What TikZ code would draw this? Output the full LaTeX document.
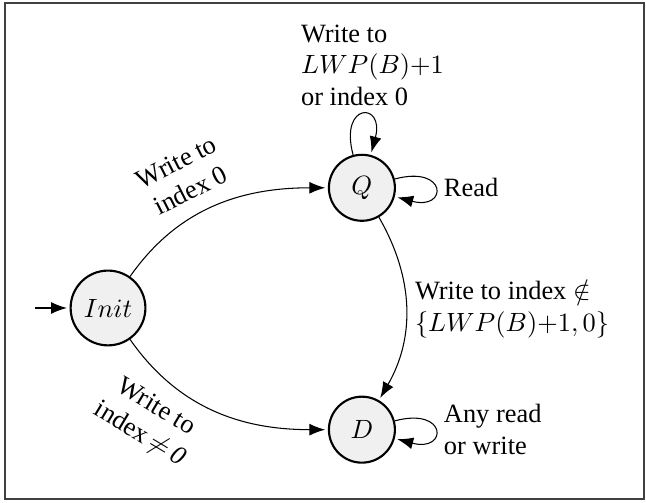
\documentclass[tikz,border=0pt]{standalone}
\usepackage{fontspec}
\setmainfont{Liberation Serif}
\usepackage{tikz}
\usetikzlibrary{arrows.meta}
\usetikzlibrary{positioning}
\tikzstyle{statenode}=[circle,draw=black,thick,fill=black!6,minimum size=25pt,inner sep=3.33pt]
\tikzstyle{edge} = [draw,-{Latex[length=6pt,width=4.5pt]},shorten >=1pt]
\tikzstyle{weight} = [align=center]
\tikzstyle{framebox} = [draw=black!75,line width=0.6pt]

\begin{document}
\begin{tikzpicture}[auto]

  \useasboundingbox (-1.438,-2.583) rectangle (7.162,4.100);
  \path[framebox] (-1.371,-2.543) rectangle (7.136,4.060);

   \foreach \x/\y/\name/\label in {0/0/init/Init, 3.38/1.6/Q/Q, 3.38/-1.62/D/D}
          \node[statenode] (\name) at (\x,\y) {$\label$};

   \coordinate (start) at (-0.97,0);
   \path[edge] (start) -- (init);

  \path[edge] (init) to[out=55,in=180] node[weight,sloped,above=2.5pt,pos=0.43] {Write to\\index 0} (Q);
  \path[edge] (init) to[out=-55,in=180] node[weight,anchor=center,pos=0.4,xshift=-18.5pt,yshift=-7.5pt,rotate=-31] {Write to\\index\,$\neq$\,\textit{0}} (D);
  \path[edge] (Q) to[bend left=30] node[align=left,right] {Write to index $\notin$\\$\{LWP(B){+}1,0\}$} (D);

  \path[edge] (Q) to[loop above] node[align=left,above,xshift=4pt] {Write to\\$LWP(B){+}1$\\or index 0} (Q);
  \path[edge] (Q) to[loop right] node[right] {Read} (Q);
  \path[edge] (D) to[loop right] node[align=left,right] {Any read\\or write} (D);

   \end{tikzpicture}
\end{document}
